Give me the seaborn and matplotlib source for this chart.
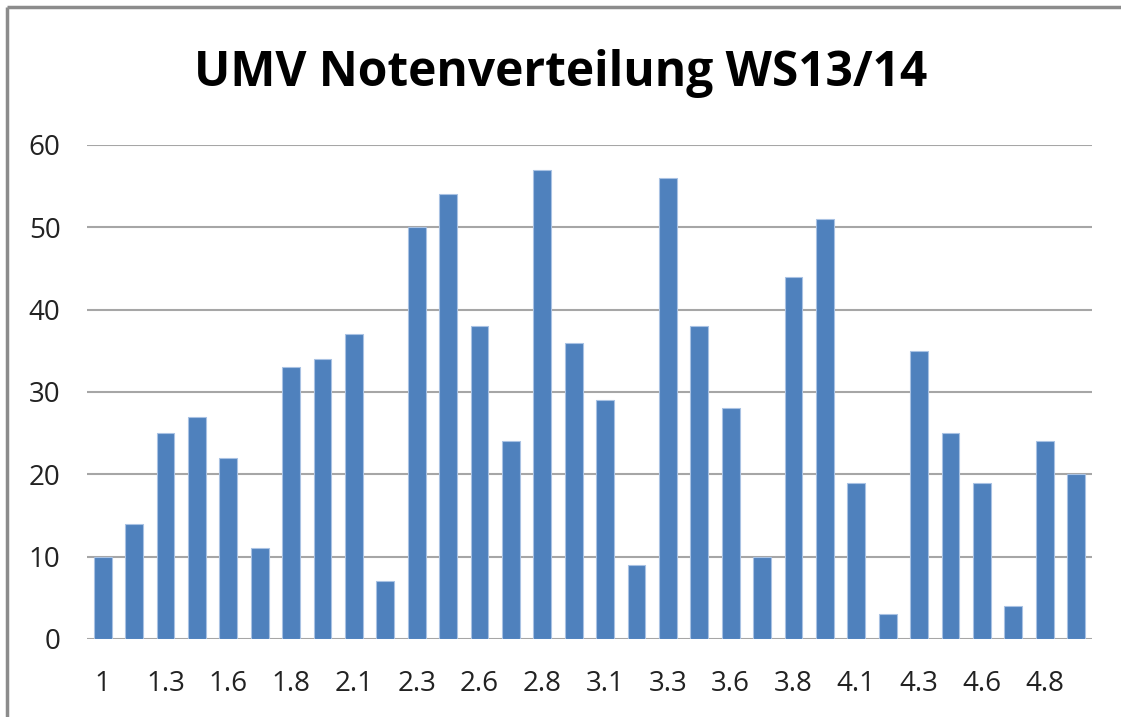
import matplotlib
matplotlib.use("Agg")
import matplotlib.pyplot as plt
import seaborn as sns
import pandas as pd
from matplotlib.lines import Line2D

# grade categories (only every other one is labelled in the chart)
grades = ['1', '1.1', '1.3', '1.4', '1.6', '1.7', '1.8', '1.9',
          '2.1', '2.2', '2.3', '2.4', '2.6', '2.7', '2.8', '2.9',
          '3.1', '3.2', '3.3', '3.4', '3.6', '3.7', '3.8', '3.9',
          '4.1', '4.2', '4.3', '4.4', '4.6', '4.7', '4.8', '4.9']
counts = [10, 14, 25, 27, 22, 11, 33, 34,
          37, 7, 50, 54, 38, 24, 57, 36,
          29, 9, 56, 38, 28, 10, 44, 51,
          19, 3, 35, 25, 19, 4, 24, 20]
y_ticks = [0, 10, 20, 30, 40, 50, 60]
title = 'UMV Notenverteilung WS13/14'

df = pd.DataFrame({'grade': grades, 'count': counts})

sns.set_style('white')
plt.rcParams['font.family'] = ['Open Sans', 'DejaVu Sans']

fig = plt.figure(figsize=(11.21, 7.17), dpi=100)
ax = fig.add_axes([0.0776, 0.1088, 0.8964, 0.689])

sns.barplot(data=df, x='grade', y='count', order=grades, color='#4F81BD',
            width=0.57, edgecolor='#A9C2E3', linewidth=0.8, saturation=1,
            ax=ax, zorder=3)

ax.set_xlim(-0.5, len(grades) - 0.5)
ax.set_ylim(0, 60)
ax.set_yticks(y_ticks)
ax.set_yticklabels([str(t) for t in y_ticks])
ax.set_xticks(range(0, len(grades), 2))
ax.set_xticklabels(grades[::2])
ax.tick_params(axis='both', length=0, labelsize=20, colors='#222222')
ax.tick_params(axis='y', pad=19)
ax.tick_params(axis='x', pad=22)
ax.set_xlabel('')
ax.set_ylabel('')
ax.grid(axis='y', color='#A6A6A6', linewidth=1.5, zorder=0)
for s in ax.spines.values():
    s.set_visible(False)

fig.text(0.5, 0.898, title, ha='center', va='center', fontsize=34.5,
         fontweight='bold', color='black')

# chart frame (top and left edges visible)
frame_y = 1 - 6.5 / 717
frame_x = 7 / 1121
fig.add_artist(Line2D([frame_x, 1.0], [frame_y, frame_y], transform=fig.transFigure,
                      color='#8C8C8C', linewidth=2.5, solid_capstyle='butt'))
fig.add_artist(Line2D([frame_x, frame_x], [0.0, frame_y], transform=fig.transFigure,
                      color='#8C8C8C', linewidth=2.5, solid_capstyle='butt'))

fig.savefig('out.png', dpi=100)
